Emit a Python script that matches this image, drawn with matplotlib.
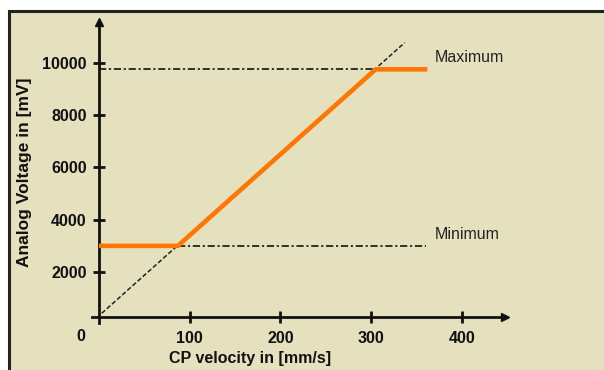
import matplotlib
matplotlib.use("Agg")
import matplotlib.pyplot as plt
from matplotlib.patches import Rectangle

plt.rcParams['font.family'] = ['Liberation Sans', 'DejaVu Sans']

# Characteristic curve: analog voltage output vs. CP velocity
curve_x = [0, 87, 305, 362]
curve_y = [3000, 3000, 9750, 9750]

# Unclamped proportional relation
ideal_x = [3, 337]
ideal_y = [420, 10770]

# Limits
v_max = 9750
v_min = 3000
max_span = [0, 305]
min_span = [87, 361]

x_ticks = [100, 200, 300, 400]
y_ticks = [2000, 4000, 6000, 8000, 10000]

W, H = 604, 370
fig = plt.figure(figsize=(W / 100, H / 100), dpi=100)
fig.patch.set_facecolor('white')

bg = '#E5E0BD'
panel = Rectangle((8.5 / W, -0.05), 1.2, 1 - 10.5 / H + 0.05, transform=fig.transFigure,
                  facecolor=bg, edgecolor='#222222', linewidth=2.2, zorder=-1)
fig.patches.append(panel)

# axes placed in pixel terms
left_px, right_px, top_px, bot_px = 92, 505, 22, 323
ax = fig.add_axes([left_px / W, 1 - bot_px / H, (right_px - left_px) / W, (bot_px - top_px) / H])
ax.set_facecolor('none')
ax.set_zorder(1)

px_per_x = 0.907
x0_px = 99
px_per_y = 0.02615
y0_px = 324.3
ax.set_xlim((left_px - x0_px) / px_per_x, (right_px - x0_px) / px_per_x)
ax.set_ylim((y0_px - bot_px) / px_per_y, (y0_px - top_px) / px_per_y)

axis_y = 280
for s in ['top', 'right']:
    ax.spines[s].set_visible(False)
ax.spines['left'].set_position(('data', 0))
ax.spines['bottom'].set_position(('data', axis_y))
for s in ['left', 'bottom']:
    ax.spines[s].set_linewidth(2.0)
    ax.spines[s].set_color('#111111')

ax.plot(1, axis_y, '>', color='#111111', markersize=6, transform=ax.get_yaxis_transform(), clip_on=False)
ax.plot(0, 1, '^', color='#111111', markersize=6, transform=ax.get_xaxis_transform(), clip_on=False)

ax.set_xticks(x_ticks)
ax.set_yticks(y_ticks)
ax.set_xticklabels([str(v) for v in x_ticks], fontsize=11.5, fontweight='bold', color='#111111')
ax.set_yticklabels([str(v) for v in y_ticks], fontsize=11.5, fontweight='bold', color='#111111')
ax.tick_params(axis='both', direction='inout', length=8, width=2, color='#111111')
ax.tick_params(axis='y', pad=5)
ax.tick_params(axis='x', pad=6)

ax.annotate('0', xy=(0, axis_y), xytext=(-18, -20), textcoords='offset pixels',
            ha='center', va='center', fontsize=11.5, fontweight='bold', color='#111111')

# reference lines
ax.plot(ideal_x, ideal_y, color='#222222', linewidth=1.1, linestyle=(0, (3, 1.5)), zorder=2)
ax.plot(max_span, [v_max, v_max], color='#222222', linewidth=1.3,
        linestyle=(0, (4, 1.5, 1.2, 1.5)), zorder=2)
ax.plot(min_span, [v_min, v_min], color='#222222', linewidth=1.3,
        linestyle=(0, (4, 1.5, 1.2, 1.5)), zorder=2)

# output curve
ax.plot(curve_x, curve_y, color='#FF7700', linewidth=3.3, solid_capstyle='butt', zorder=3)

fig.text(435 / W, 1 - 57 / H, 'Maximum', fontsize=11.5, ha='left', va='center', color='#222222')
fig.text(435 / W, 1 - 235 / H, 'Minimum', fontsize=11.5, ha='left', va='center', color='#222222')

fig.text(250 / W, 1 - 358 / H, 'CP velocity in [mm/s]', fontsize=11.5, fontweight='bold',
         ha='center', va='center', color='#111111')
fig.text(25 / W, 1 - 172 / H, 'Analog Voltage in [mV]', fontsize=12.5, fontweight='bold',
         ha='center', va='center', rotation=90, color='#111111')

fig.savefig('out.png', dpi=100, facecolor='white')
